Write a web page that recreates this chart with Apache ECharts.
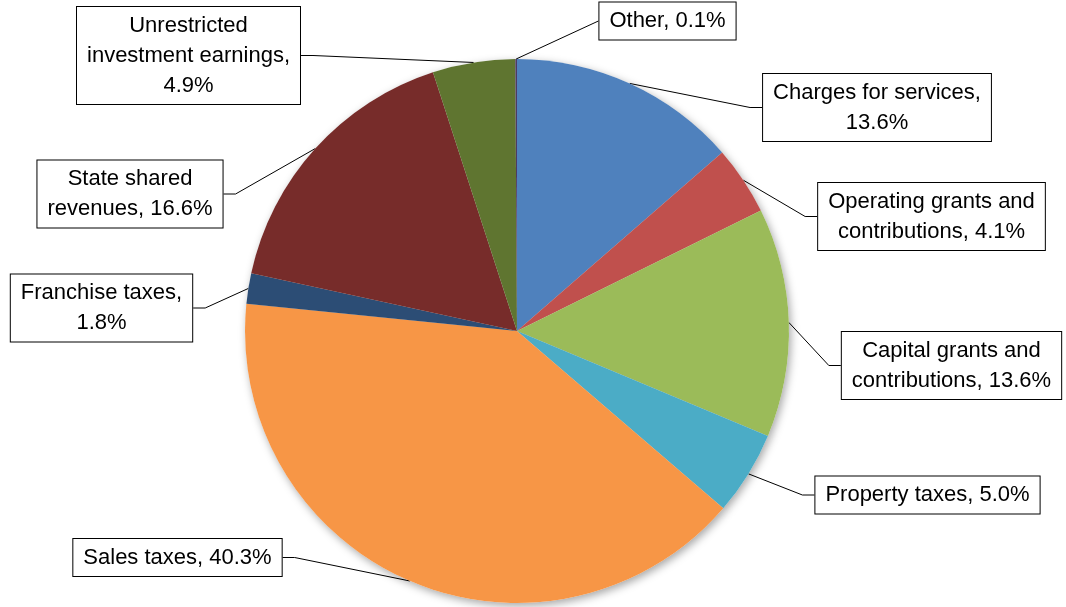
<!DOCTYPE html>
<html>
<head>
<meta charset="utf-8">
<script src="https://cdn.jsdelivr.net/npm/echarts@6/dist/echarts.min.js"></script>
<style>
  html, body { margin: 0; padding: 0; background: #fff; }
  #chart { width: 1066px; height: 607px; }
</style>
</head>
<body>
<div id="chart"></div>
<script>
// Revenue sources, share of total (%), clockwise from 12 o'clock
const categories = [
  'Charges for services',
  'Operating grants and\ncontributions',
  'Capital grants and\ncontributions',
  'Property taxes',
  'Sales taxes',
  'Franchise taxes',
  'State shared\nrevenues',
  'Unrestricted\ninvestment earnings',
  'Other'
];
const shares = [13.6, 4.1, 13.6, 5.0, 40.3, 1.8, 16.6, 4.9, 0.1];
// whether the percentage goes on its own line in the callout
const valueOnOwnLine = [true, false, false, false, false, true, false, true, false];

const sliceColors = ['#4F81BD', '#C0504D', '#9BBB59', '#4BACC6', '#F79646',
                     '#2C4D75', '#772C2A', '#5F7530', '#4D3B62'];

// callout box centres
const calloutCenters = [
  [877, 107.5], [931.5, 216.5], [951.5, 365.5], [927.5, 495],
  [177.5, 557.5], [101.5, 308], [130, 194], [188.5, 55.5], [667.5, 21]
];

const pieCenter = [517, 331];
const pieRadius = 272;

const chart = echarts.init(document.getElementById('chart'), null, { renderer: 'canvas' });

const sliceData = categories.map((name, i) => {
  const item = { name: name, value: shares[i], itemStyle: { color: sliceColors[i] } };
  // the tiny top slice gets a straight leader with no elbow
  if (name === 'Other') item.labelLine = { length2: 0 };
  return item;
});

chart.setOption({
  backgroundColor: '#ffffff',
  animation: false,
  series: [
    {
      // soft drop shadow under the pie
      type: 'pie',
      silent: true,
      center: pieCenter,
      radius: pieRadius,
      startAngle: 90,
      z: 1,
      label: { show: false },
      labelLine: { show: false },
      itemStyle: {
        color: '#ffffff',
        borderWidth: 0,
        shadowBlur: 9,
        shadowOffsetX: 2,
        shadowOffsetY: 3,
        shadowColor: 'rgba(0,0,0,0.35)'
      },
      data: shares.map((v, i) => ({ name: categories[i], value: v }))
    },
    {
      type: 'pie',
      center: pieCenter,
      radius: pieRadius,
      startAngle: 90,
      clockwise: true,
      z: 2,
      avoidLabelOverlap: false,
      itemStyle: { borderWidth: 0 },
      label: {
        show: true,
        position: 'outside',
        formatter: (p) => p.name + ',' +
          (valueOnOwnLine[p.dataIndex] ? '\n' : ' ') + shares[p.dataIndex].toFixed(1) + '%',
        fontFamily: '"Liberation Sans", Arial, sans-serif',
        fontSize: 22,
        lineHeight: 30,
        color: '#000',
        align: 'center',
        backgroundColor: '#ffffff',
        borderColor: '#000',
        borderWidth: 1,
        padding: [4, 10, 3, 10]
      },
      labelLine: {
        show: true,
        length: 10,
        length2: 12,
        smooth: false,
        lineStyle: { color: '#000', width: 1 }
      },
      labelLayout: (params) => {
        const c = calloutCenters[params.dataIndex];
        return { x: c[0], y: c[1], align: 'center', verticalAlign: 'middle' };
      },
      emphasis: { disabled: true },
      data: sliceData
    }
  ]
});
</script>
</body>
</html>
